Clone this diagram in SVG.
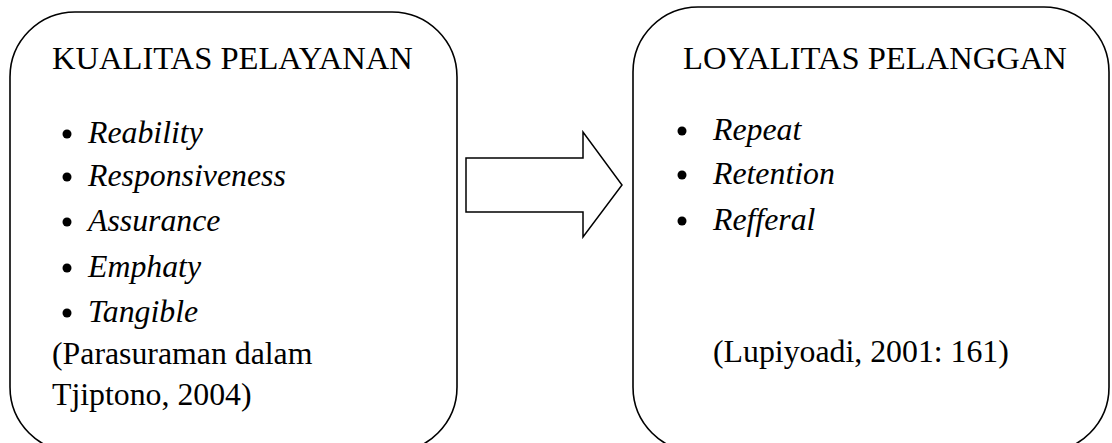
<svg xmlns="http://www.w3.org/2000/svg" width="1112" height="443" viewBox="0 0 1112 443">
<style>
.box{fill:#fff;stroke:#000;stroke-width:1.6}
.i{font-style:italic}
.h{font-size:32.6px}
.b{fill:#000}
</style>
<rect width="1112" height="443" fill="#fff"/>
<g id="kualitas" font-family="Liberation Serif, Times New Roman, serif" font-size="31.8" fill="#000">
<rect class="box" x="10" y="12" width="447" height="440" rx="65" ry="65"/>
<text class="h" x="52" y="69">KUALITAS PELAYANAN</text>
<circle class="b" cx="67" cy="134" r="4.5"/>
<text class="i" x="88" y="143">Reability</text>
<circle class="b" cx="67" cy="177" r="4.5"/>
<text class="i" x="88" y="186">Responsiveness</text>
<circle class="b" cx="67" cy="222" r="4.5"/>
<text class="i" x="88" y="231">Assurance</text>
<circle class="b" cx="67" cy="268" r="4.5"/>
<text class="i" x="88" y="277">Emphaty</text>
<circle class="b" cx="67" cy="313" r="4.5"/>
<text class="i" x="88" y="322">Tangible</text>
<text x="52" y="364">(Parasuraman dalam</text>
<text x="52" y="405">Tjiptono, 2004)</text>
</g>
<g id="loyalitas" font-family="Liberation Serif, Times New Roman, serif" font-size="31.8" fill="#000">
<rect class="box" x="633" y="7" width="476" height="445" rx="65" ry="65"/>
<text class="h" x="683" y="69">LOYALITAS PELANGGAN</text>
<circle class="b" cx="682" cy="131" r="4.5"/>
<text class="i" x="713" y="140">Repeat</text>
<circle class="b" cx="682" cy="175" r="4.5"/>
<text class="i" x="713" y="184">Retention</text>
<circle class="b" cx="682" cy="221" r="4.5"/>
<text class="i" x="713" y="230">Refferal</text>
<text x="713" y="362">(Lupiyoadi, 2001: 161)</text>
</g>
<g id="connectors">
<polygon points="466,158 583,158 583,132 622,185 583,237 583,212 466,212" fill="#fff" stroke="#000" stroke-width="1.5"/>
</g>
</svg>
